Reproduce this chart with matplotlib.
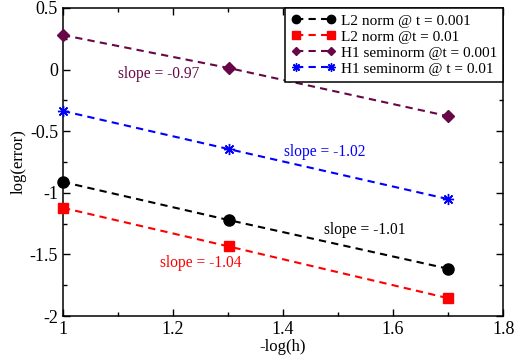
import matplotlib
matplotlib.use("Agg")
import matplotlib.pyplot as plt
from matplotlib.ticker import MultipleLocator

plt.rcParams['font.family'] = ['Liberation Serif', 'DejaVu Serif']
plt.rcParams['mathtext.fontset'] = 'stix'

# data
neg_log_h = [1.0, 1.30103, 1.69897]
l2_t001 = [-0.912, -1.221, -1.615]
l2_t01 = [-1.122, -1.435, -1.854]
h1_t001 = [0.28, 0.013, -0.377]
h1_t01 = [-0.336, -0.645, -1.05]

series_labels = ['L2 norm @ t = 0.001', 'L2 norm @t = 0.01',
                 'H1 seminorm @t = 0.001', 'H1 seminorm @ t = 0.01']
slope_texts = ['slope = -1.01', 'slope = -1.04', 'slope = -0.97', 'slope = -1.02']
slope_pos = [(1.475, -1.335), (1.176, -1.603), (1.10, -0.07), (1.402, -0.70)]

maroon = '#670748'
colors = ['black', 'red', maroon, 'blue']
markers = ['o', 's', 'D', (8, 2, 0)]
msizes = [8, 7, 6, 8]

fig = plt.figure(figsize=(5.16, 3.62), dpi=100)
ax = fig.add_axes([0.122, 0.127, 0.853, 0.851])

dash = (0, (3.5, 2.5))
for ys, c, m, ms, lab in zip([l2_t001, l2_t01, h1_t001, h1_t01], colors, markers, msizes, series_labels):
    ax.plot(neg_log_h, ys, color=c, linestyle=dash, lw=1.5, marker=m, markersize=ms,
            markeredgewidth=1.0, label=lab, clip_on=False, zorder=3)

for t, (x, y), c in zip(slope_texts, slope_pos, colors):
    ax.text(x, y, t, color=c, fontsize=11.2, ha='left', va='baseline')

ax.set_xlim(1, 1.8)
ax.set_ylim(-2, 0.5)
ax.xaxis.set_major_locator(MultipleLocator(0.2))
ax.xaxis.set_minor_locator(MultipleLocator(0.1))
ax.yaxis.set_major_locator(MultipleLocator(0.5))
ax.yaxis.set_minor_locator(MultipleLocator(0.25))
ax.xaxis.set_major_formatter(plt.FuncFormatter(lambda v, p: ('%g' % round(v, 2))))
ax.yaxis.set_major_formatter(plt.FuncFormatter(lambda v, p: ('%g' % round(v, 2))))
ax.tick_params(which='both', direction='in', top=True, right=True, width=1.0, labelsize=13)
ax.tick_params(which='major', length=5)
ax.tick_params(which='minor', length=3)
for s in ax.spines.values():
    s.set_linewidth(1.1)

ax.set_xlabel('-log(h)', fontsize=12, labelpad=1)
ax.set_ylabel('log(error)', fontsize=12, labelpad=2)

leg = ax.legend(loc='upper right', borderaxespad=0, numpoints=2, fontsize=11,
                handlelength=2.9, handletextpad=0.35, labelspacing=0.15, markerscale=0.75,
                borderpad=0.4, fancybox=False, framealpha=1, edgecolor='black')
leg.get_frame().set_linewidth(1.1)

fig.savefig('out.png', dpi=100)
